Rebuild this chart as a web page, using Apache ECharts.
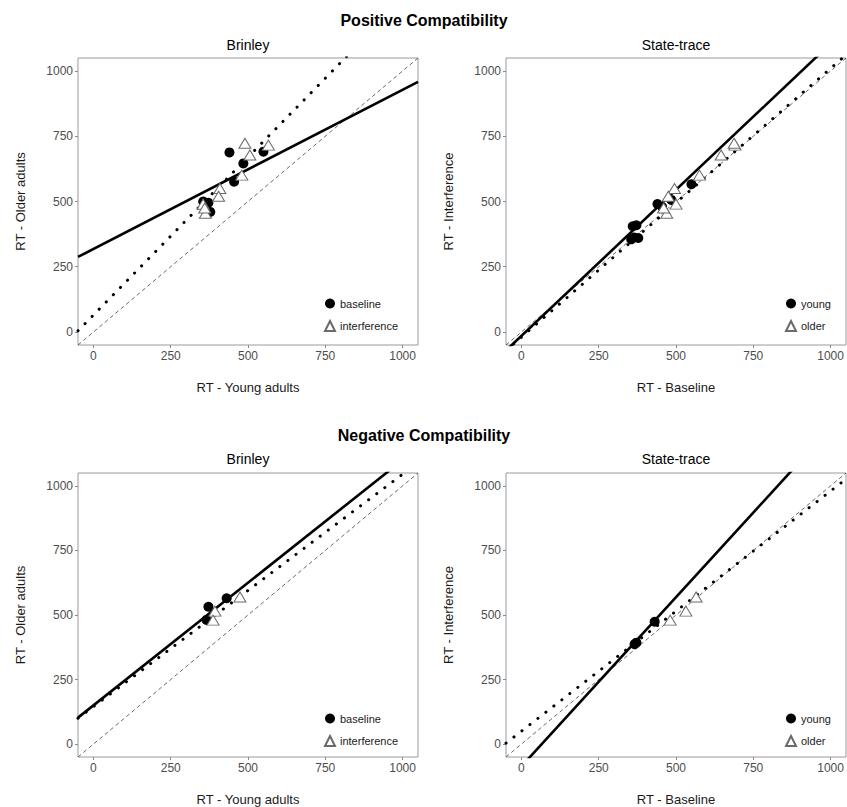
<!DOCTYPE html>
<html>
<head>
<meta charset="utf-8">
<script src="https://cdn.jsdelivr.net/npm/echarts@6/dist/echarts.min.js"></script>
<style>
  html, body { margin: 0; padding: 0; background: #fff; }
  #chart { width: 847px; height: 807px; }
</style>
</head>
<body>
<div id="chart"></div>
<script>
// shared axis ticks and range (ggplot-like 5% expansion around 0..1000)
const tickValues = [0, 250, 500, 750, 1000]
const axisMin = -50
const axisMax = 1050

// Positive compatibility, one entry per condition
const posYoungBaseline = [550, 485, 440, 455, 372, 360, 365, 355, 378]
const posYoungInterference = [566, 506, 490, 480, 409, 405, 362, 355, 360]
const posOlderBaseline = [691, 646, 688, 576, 495, 475, 470, 500, 460]
const posOlderInterference = [716, 678, 723, 601, 550, 520, 455, 490, 475]

// Negative compatibility
const negYoungBaseline = [431, 372, 366]
const negYoungInterference = [474, 393, 387]
const negOlderBaseline = [565, 532, 481]
const negOlderInterference = [570, 515, 480]

// fitted lines per panel [intercept, slope]: solid = baseline / young, dotted = interference / older
const solidFits = [[318, 0.61], [-15, 1.12], [150, 0.95], [-86, 1.31]]
const dottedFits = [[65, 1.21], [-20, 1.03], [145, 0.9], [50, 0.93]]

const xNames = ['RT - Young adults', 'RT - Baseline', 'RT - Young adults', 'RT - Baseline']
const yNames = ['RT - Older adults', 'RT - Interference', 'RT - Older adults', 'RT - Interference']
const legendNames = [['baseline', 'interference'], ['young', 'older'], ['baseline', 'interference'], ['young', 'older']]

const FONT = '"Liberation Sans", Arial, sans-serif'

/** panel boxes */
const panels = [
  { left: 78, top: 58 },
  { left: 506, top: 58 },
  { left: 78, top: 473 },
  { left: 506, top: 473 },
]
const PANEL_W = 340
const PANEL_H = 287

const zip = (xs, ys) => xs.map((x, i) => [x, ys[i]])

/** points per panel: [circles, triangles] */
const panelPoints = [
  [zip(posYoungBaseline, posOlderBaseline), zip(posYoungInterference, posOlderInterference)],
  [zip(posYoungBaseline, posYoungInterference), zip(posOlderBaseline, posOlderInterference)],
  [zip(negYoungBaseline, negOlderBaseline), zip(negYoungInterference, negOlderInterference)],
  [zip(negYoungBaseline, negYoungInterference), zip(negOlderBaseline, negOlderInterference)],
]

function abline(i, [a, b], lineStyle) {
  return {
    type: 'line',
    xAxisIndex: i,
    yAxisIndex: i,
    data: [[axisMin, a + b * axisMin], [axisMax, a + b * axisMax]],
    symbol: 'none',
    silent: true,
    clip: true,
    z: 2,
    lineStyle,
  }
}

const grid = []
const xAxis = []
const yAxis = []
const series = []
const legend = []

panels.forEach((p, i) => {
  grid.push({
    left: p.left,
    top: p.top,
    width: PANEL_W,
    height: PANEL_H,
    show: true,
    borderColor: '#9a9a9a',
    borderWidth: 1,
  })

  const common = {
    type: 'value',
    gridIndex: i,
    min: axisMin,
    max: axisMax,
    axisLine: { show: false, onZero: false },
    axisTick: { show: true, length: 3, customValues: tickValues, lineStyle: { color: '#8a8a8a' } },
    axisLabel: {
      customValues: tickValues,
      formatter: (v) => String(v),
      color: '#4d4d4d',
      fontSize: 12,
      fontFamily: FONT,
      margin: 5,
    },
    splitLine: { show: false },
    nameLocation: 'middle',
    nameTextStyle: { color: '#1a1a1a', fontSize: 13, fontFamily: FONT },
  }
  xAxis.push({ ...common, name: xNames[i], nameGap: 36 })
  yAxis.push({ ...common, name: yNames[i], nameGap: 51 })

  // identity line
  series.push(abline(i, [0, 1], { color: '#444', width: 0.8, type: [4, 3] }))
  series.push(abline(i, solidFits[i], { color: '#000', width: 2.6, type: 'solid' }))
  series.push(abline(i, dottedFits[i], { color: '#000', width: 3, type: [0.1, 10], cap: 'round' }))

  const [circleName, triangleName] = legendNames[i]
  series.push({
    type: 'scatter',
    name: circleName,
    xAxisIndex: i,
    yAxisIndex: i,
    data: panelPoints[i][0],
    symbol: 'circle',
    symbolSize: 10,
    itemStyle: { color: '#000', opacity: 1 },
    z: 3,
  })
  series.push({
    type: 'scatter',
    name: triangleName,
    xAxisIndex: i,
    yAxisIndex: i,
    data: panelPoints[i][1],
    symbol: 'triangle',
    symbolSize: [12, 10],
    itemStyle: { color: '#fff', borderColor: '#6a6a6a', borderWidth: 1, opacity: 1 },
    z: 3,
  })

  legend.push({
    orient: 'vertical',
    left: i % 2 === 0 ? 324 : 785,
    top: p.top + 240,
    padding: 0,
    itemWidth: 10,
    itemHeight: 10,
    itemGap: 11,
    selectedMode: false,
    data: legendNames[i],
    textStyle: { fontSize: 11, color: '#1a1a1a', fontFamily: FONT },
  })
})

const titleText = (text, x, y, size, weight) => ({
  type: 'text',
  x,
  y,
  style: {
    text,
    fill: '#000',
    font: `${weight} ${size}px ${FONT}`,
    align: 'center',
    verticalAlign: 'middle',
  },
})

const chart = echarts.init(document.getElementById('chart'), null, { renderer: 'svg' })
chart.setOption({
  backgroundColor: '#fff',
  animation: false,
  grid,
  xAxis,
  yAxis,
  legend,
  series,
  graphic: [
    titleText('Positive Compatibility', 424, 20, 16, 'bold'),
    titleText('Brinley', 248, 45, 14, 'normal'),
    titleText('State-trace', 676, 45, 14, 'normal'),
    titleText('Negative Compatibility', 424, 435, 16, 'bold'),
    titleText('Brinley', 248, 459, 14, 'normal'),
    titleText('State-trace', 676, 459, 14, 'normal'),
  ],
})
</script>
</body>
</html>
